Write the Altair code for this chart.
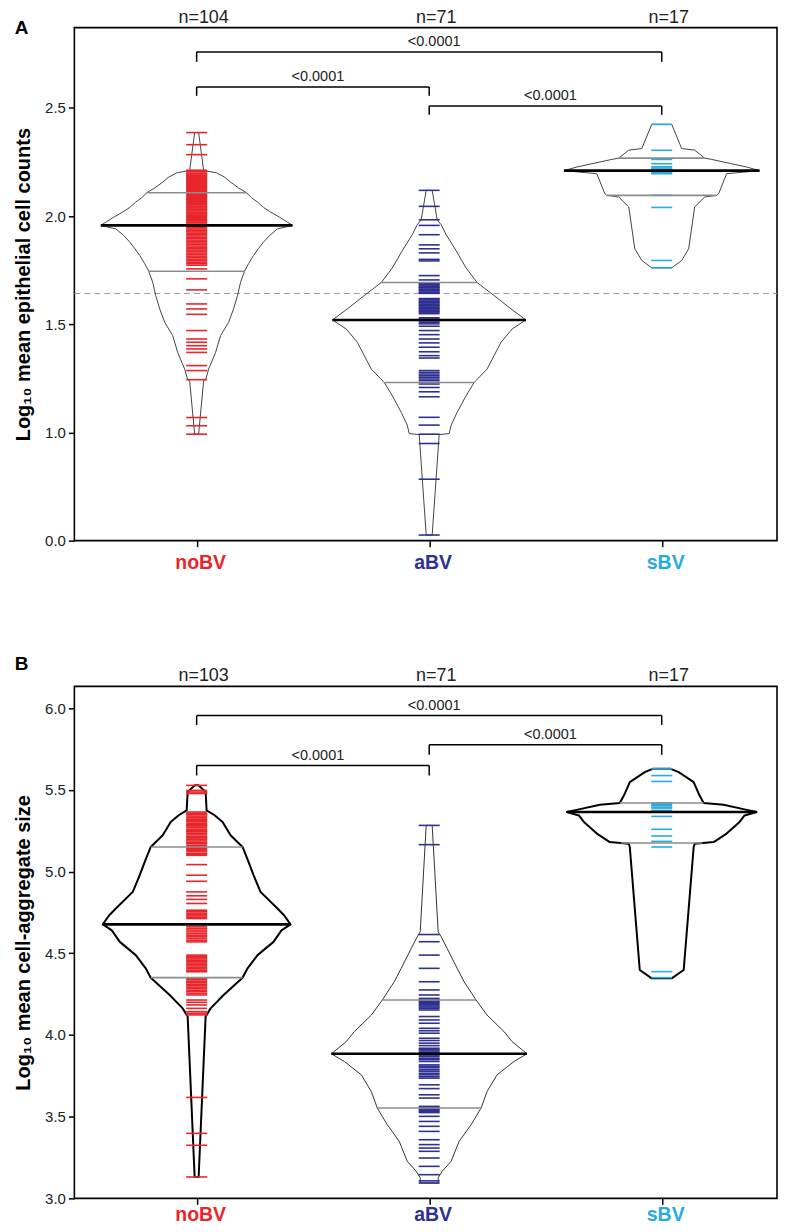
import altair as alt
import pandas as pd
import numpy as np

# ---------------- shared ----------------
groups = ["noBV", "aBV", "sBV"]
group_x = [1, 2, 3]
group_colors = ["#E8262B", "#2E3192", "#29ABE2"]
p_labels = ["<0.0001", "<0.0001", "<0.0001"]

# ---------------- panel A data ----------------
a_title = "Log\u2081\u2080 mean epithelial cell counts"
a_ticks = [0.5, 1.0, 1.5, 2.0, 2.5]
a_tick_labels = ["0.0", "1.0", "1.5", "2.0", "2.5"]
a_n = ["n=104", "n=71", "n=17"]

a_noBV = [2.386, 2.330, 2.284,
          2.212, 2.208, 2.206, 2.199, 2.196, 2.190, 2.188, 2.183, 2.177, 2.175,
          2.170, 2.164, 2.161, 2.155, 2.152, 2.147, 2.140, 2.138, 2.131, 2.129,
          2.122, 2.118, 2.113, 2.109, 2.104, 2.100, 2.094, 2.091, 2.085, 2.080,
          2.077, 2.071, 2.066, 2.062, 2.057, 2.053, 2.047, 2.043, 2.038, 2.033,
          2.029, 2.024, 2.018, 2.014, 2.009, 2.003, 1.999, 1.994, 1.989, 1.983,
          1.979, 1.973, 1.969, 1.963, 1.958,
          1.951, 1.946, 1.940, 1.933, 1.927, 1.921, 1.914, 1.908, 1.901, 1.896,
          1.889, 1.882, 1.876, 1.870, 1.862, 1.856, 1.849, 1.843, 1.836, 1.829,
          1.822, 1.815, 1.808, 1.801, 1.794, 1.787, 1.780, 1.773,
          1.756, 1.710, 1.659, 1.594, 1.571, 1.546, 1.471, 1.432, 1.417, 1.401,
          1.386, 1.370, 1.309, 1.286, 1.244, 1.069, 1.031, 0.992]
a_aBV = [2.119, 2.045, 1.983, 1.957, 1.914, 1.867, 1.849, 1.830, 1.800, 1.793,
         1.725, 1.705,
         1.688, 1.685, 1.681, 1.674, 1.671, 1.668, 1.662, 1.659, 1.655, 1.649, 1.646, 1.643,
         1.619, 1.615, 1.612, 1.605, 1.601, 1.598, 1.591, 1.587, 1.584, 1.577, 1.573,
         1.570, 1.563, 1.559, 1.556, 1.549,
         1.530, 1.524, 1.516, 1.509, 1.502,
         1.491, 1.471, 1.452, 1.432, 1.414, 1.394, 1.373, 1.355, 1.344,
         1.286, 1.278, 1.270, 1.262, 1.255, 1.247, 1.239, 1.224, 1.208, 1.188, 1.165,
         1.070, 1.034, 0.992, 0.949, 0.784, 0.526]
a_sBV = [2.424, 2.304, 2.262, 2.242, 2.228, 2.222, 2.216, 2.214, 2.211, 2.208,
         2.205, 2.200, 2.196, 2.096, 2.040, 1.795, 1.761]

a_median = [1.957, 1.520, 2.210]
a_q1 = [1.745, 1.231, 2.096]
a_q3 = [2.108, 1.693, 2.268]
a_overall = 1.642

# bean outlines: level and relative half-width (density)
a_noBV_lvl = [2.386, 2.211, 2.200, 2.180, 2.157, 2.130, 2.108, 2.085, 2.065, 2.040,
              2.019, 1.995, 1.975, 1.957, 1.941, 1.910, 1.880, 1.850, 1.818, 1.780,
              1.745, 1.694, 1.633, 1.571, 1.509, 1.448, 1.370, 1.293, 1.244, 1.239, 0.992]
a_noBV_den = [2, 7, 20, 28, 34, 42, 50, 55, 61, 67,
              74, 83, 90, 96, 81, 73, 67, 62, 57, 52,
              48, 44, 41, 37, 32, 24, 19, 12, 9, 7, 2]
a_aBV_lvl = [2.119, 1.983, 1.960, 1.914, 1.840, 1.760, 1.693, 1.633, 1.571, 1.520,
             1.478, 1.417, 1.355, 1.293, 1.231, 1.170, 1.093, 1.034, 0.995, 0.990, 0.526]
a_aBV_den = [3, 8, 12, 17, 27, 37, 48, 65, 82, 97,
             83, 72, 65, 58, 45, 37, 28, 22, 20, 10, 3]
a_sBV_lvl = [2.424, 2.312, 2.305, 2.268, 2.262, 2.242, 2.227, 2.210, 2.196, 2.103,
             2.096, 2.088, 2.042, 1.849, 1.795, 1.761]
a_sBV_den = [10, 20, 33, 43, 50, 70, 85, 98, 65, 57,
             55, 43, 33, 27, 20, 10]

# ---------------- panel B data ----------------
b_title = "Log\u2081\u2080 mean cell-aggregate size"
b_ticks = [3.0, 3.5, 4.0, 4.5, 5.0, 5.5, 6.0]
b_tick_labels = ["3.0", "3.5", "4.0", "4.5", "5.0", "5.5", "6.0"]
b_n = ["n=103", "n=71", "n=17"]

b_noBV = [5.528, 5.497, 5.487, 5.478,
          5.365, 5.357, 5.353, 5.349, 5.340, 5.331, 5.322, 5.318, 5.313, 5.305,
          5.296, 5.287, 5.283, 5.279, 5.270, 5.260, 5.251, 5.247, 5.243, 5.234,
          5.225, 5.215, 5.211, 5.206, 5.198, 5.188, 5.179, 5.175, 5.170, 5.160,
          5.151, 5.142, 5.137, 5.131, 5.121, 5.110, 5.105, 5.100,
          5.043, 4.978, 4.941, 4.876, 4.852, 4.830, 4.805,
          4.764, 4.755, 4.746, 4.738, 4.729, 4.721, 4.713,
          4.677, 4.662, 4.652, 4.642, 4.631, 4.621, 4.611, 4.601, 4.591, 4.580, 4.570,
          4.489, 4.481, 4.473, 4.465, 4.456, 4.448, 4.440, 4.431, 4.423, 4.414,
          4.405, 4.396, 4.387,
          4.347, 4.338, 4.329, 4.320, 4.311, 4.302, 4.293, 4.284, 4.274, 4.265,
          4.255, 4.245,
          4.214, 4.200, 4.184, 4.163, 4.143, 4.133, 4.123,
          3.618, 3.398, 3.325, 3.131]
b_aBV = [5.283, 5.165, 4.615, 4.571, 4.489, 4.408, 4.326, 4.276, 4.245,
         4.224, 4.215, 4.207, 4.200, 4.194, 4.186, 4.178, 4.171, 4.163, 4.153,
         4.113, 4.092, 4.072, 4.041, 4.026, 4.011, 3.980, 3.966, 3.950, 3.935,
         3.919, 3.910, 3.902, 3.893, 3.885, 3.877, 3.869, 3.858, 3.849, 3.838,
         3.817, 3.808, 3.799, 3.787, 3.778, 3.766, 3.756, 3.745, 3.736,
         3.695, 3.672, 3.634, 3.614,
         3.563, 3.556, 3.546, 3.539, 3.532, 3.525, 3.502, 3.471, 3.441, 3.410,
         3.359, 3.329, 3.308, 3.288, 3.247, 3.196, 3.145, 3.107, 3.094]
b_sBV = [5.629, 5.588, 5.552, 5.420, 5.412, 5.405, 5.395, 5.389, 5.375, 5.365,
         5.338, 5.259, 5.218, 5.185, 5.151, 4.388, 4.351]

b_median = [4.677, 3.885, 5.365]
b_q1 = [4.351, 3.553, 5.175]
b_q3 = [5.151, 4.214, 5.420]

b_noBV_lvl = [5.528, 5.487, 5.375, 5.345, 5.304, 5.223, 5.151, 5.060, 4.978, 4.876,
              4.774, 4.730, 4.677, 4.640, 4.570, 4.489, 4.408, 4.351, 4.245, 4.163,
              4.123, 4.113, 3.131]
b_noBV_den = [2, 9, 10, 18, 26, 34, 46, 52, 57, 64,
              81, 88, 94, 85, 77, 61, 51, 46, 27, 14,
              10, 9, 2]
b_aBV_lvl = [5.283, 4.632, 4.601, 4.530, 4.408, 4.326, 4.214, 4.122, 4.021, 3.960,
             3.885, 3.838, 3.756, 3.654, 3.553, 3.451, 3.349, 3.227, 3.166, 3.126, 3.094]
b_aBV_den = [3, 9, 12, 18, 28, 35, 47, 58, 75, 83,
             98, 85, 68, 58, 52, 42, 30, 22, 13, 9, 9]
b_sBV_lvl = [5.629, 5.609, 5.548, 5.477, 5.420, 5.409, 5.381, 5.365, 5.344, 5.304,
             5.233, 5.181, 5.171, 5.151, 4.398, 4.347]
b_sBV_den = [9, 17, 32, 37, 42, 62, 83, 95, 83, 78,
             65, 52, 33, 32, 22, 10]

# ---------------- layout constants ----------------
W = 704
HA = 514
HB = 513
XDOM = [0.4742, 3.4957]
PX_UNIT = W / (XDOM[1] - XDOM[0])
DEN_SCALE = 1.0 / PX_UNIT          # relative half-width -> category units
TICK_HALF = 10.5 / PX_UNIT
SANS = "Liberation Sans, Arial, Helvetica, sans-serif"


def label_expr(ticks, labels):
    expr = "''"
    for t, l in zip(reversed(ticks), reversed(labels)):
        expr = f"abs(datum.value - {t}) < 0.01 ? '{l}' : ({expr})"
    return expr


def make_panel(letter, letter_dy, title, ticks, tick_labels, ydom, height, nlab,
               values, profiles, med, q1, q3, brackets, outline_w, outline_c,
               cat_dy, overall=None):
    X = alt.X("x:Q", scale=alt.Scale(domain=XDOM, nice=False, zero=False),
              axis=alt.Axis(values=[1, 2, 3], labels=False, tickSize=6, title=None,
                            grid=False, domain=False))
    Y = alt.Y("y:Q", scale=alt.Scale(domain=ydom, nice=False, zero=False),
              axis=alt.Axis(values=ticks, labelExpr=label_expr(ticks, tick_labels),
                            title=title, tickSize=6, labelPadding=3, titlePadding=11,
                            grid=False, domain=False))
    layers = []

    if overall is not None:
        df = pd.DataFrame({"x": [XDOM[0]], "x2": [XDOM[1]], "y": [overall]})
        layers.append(alt.Chart(df).mark_rule(color="#9a9a9a", strokeWidth=1,
                                              strokeDash=[6, 4]).encode(x=X, x2="x2", y=Y))

    # bean outlines
    for gi, (lvl, den) in enumerate(profiles):
        lvl = np.array(lvl)
        den = np.array(den)
        order = np.argsort(lvl)
        df = pd.DataFrame({
            "y": lvl[order],
            "x": group_x[gi] - den[order] * DEN_SCALE,
            "x2": group_x[gi] + den[order] * DEN_SCALE,
        })
        layers.append(alt.Chart(df).mark_area(
            orient="horizontal", fillOpacity=0, stroke=outline_c[gi],
            strokeWidth=outline_w[gi], strokeJoin="round", interpolate="linear"
        ).encode(x=X, x2="x2", y=Y))

    # individual observations
    rows = []
    for gi, vals in enumerate(values):
        for v in vals:
            rows.append({"g": groups[gi], "y": v,
                         "x": group_x[gi] - TICK_HALF, "x2": group_x[gi] + TICK_HALF})
    pts = pd.DataFrame(rows)
    layers.append(alt.Chart(pts).mark_rule(strokeWidth=1.6).encode(
        x=X, x2="x2", y=Y,
        color=alt.Color("g:N", scale=alt.Scale(domain=groups, range=group_colors),
                        legend=None)))

    # quartile and median lines spanning the bean width
    qrows, mrows = [], []
    for gi, (lvl, den) in enumerate(profiles):
        lvl = np.array(lvl)
        den = np.array(den)
        order = np.argsort(lvl)
        for q in (q1[gi], q3[gi]):
            w = float(np.interp(q, lvl[order], den[order])) * DEN_SCALE
            qrows.append({"y": q, "x": group_x[gi] - w, "x2": group_x[gi] + w})
        w = float(np.interp(med[gi], lvl[order], den[order])) * DEN_SCALE
        mrows.append({"y": med[gi], "x": group_x[gi] - w, "x2": group_x[gi] + w})
    layers.append(alt.Chart(pd.DataFrame(qrows)).mark_rule(
        color="#8c8c8c", strokeWidth=1.6).encode(x=X, x2="x2", y=Y))
    layers.append(alt.Chart(pd.DataFrame(mrows)).mark_rule(
        color="black", strokeWidth=2.6).encode(x=X, x2="x2", y=Y))

    # significance brackets
    brows, trows = [], []
    for (g1, g2, top, leg), lab in zip(brackets, p_labels):
        brows.append({"x": g1, "x2": g2, "y": top, "y2": top})
        brows.append({"x": g1, "x2": g1, "y": top, "y2": leg})
        brows.append({"x": g2, "x2": g2, "y": top, "y2": leg})
        trows.append({"x": (g1 + g2) / 2, "y": top, "t": lab})
    layers.append(alt.Chart(pd.DataFrame(brows)).mark_rule(
        color="black", strokeWidth=1.5).encode(x=X, x2="x2", y=Y, y2="y2"))
    layers.append(alt.Chart(pd.DataFrame(trows)).mark_text(
        font=SANS, fontSize=14.5, color="#222", baseline="middle", dy=-9.5, dx=5
    ).encode(x=X, y=Y, text="t:N"))

    # n labels above the frame
    ndf = pd.DataFrame({"x": group_x, "t": nlab})
    layers.append(alt.Chart(ndf).mark_text(
        font=SANS, fontSize=18, color="#222", baseline="middle", dx=7
    ).encode(x=X, y=alt.value(-10), text="t:N"))

    # category labels below the frame
    cdf = pd.DataFrame({"x": group_x, "g": groups})
    layers.append(alt.Chart(cdf).mark_text(
        font=SANS, fontSize=19.5, fontWeight="bold", baseline="middle", dx=4
    ).encode(x=X, y=alt.value(height + cat_dy), text="g:N",
             color=alt.Color("g:N", scale=alt.Scale(domain=groups, range=group_colors),
                             legend=None)))

    # panel letter
    ldf = pd.DataFrame({"t": [letter]})
    layers.append(alt.Chart(ldf).mark_text(
        font=SANS, fontSize=19, fontWeight="bold", color="black", baseline="middle",
        align="center"
    ).encode(x=alt.value(-53), y=alt.value(letter_dy), text="t:N"))

    return alt.layer(*layers).properties(width=W, height=height)


panel_a = make_panel(
    "A", 0, a_title, a_ticks, a_tick_labels, [0.5, 2.871], HA, a_n,
    [a_noBV, a_aBV, a_sBV],
    [(a_noBV_lvl, a_noBV_den), (a_aBV_lvl, a_aBV_den), (a_sBV_lvl, a_sBV_den)],
    a_median, a_q1, a_q3,
    [(1, 3, 2.759, 2.713), (1, 2, 2.597, 2.556), (2, 3, 2.509, 2.468)],
    [1.0, 1.0, 1.0], ["#444", "#444", "#444"], 22, overall=a_overall)

panel_b = make_panel(
    "B", -22, b_title, b_ticks, b_tick_labels, [3.0, 6.134], HB, b_n,
    [b_noBV, b_aBV, b_sBV],
    [(b_noBV_lvl, b_noBV_den), (b_aBV_lvl, b_aBV_den), (b_sBV_lvl, b_sBV_den)],
    b_median, b_q1, b_q3,
    [(1, 3, 5.955, 5.898), (1, 2, 5.650, 5.589), (2, 3, 5.776, 5.715)],
    [2.0, 1.0, 2.0], ["black", "#333", "black"], 17)

chart = alt.vconcat(panel_a, panel_b, spacing=81).properties(
    padding={"left": 4.5, "top": -1.5, "right": 0, "bottom": -0.75}
).configure_view(
    stroke="black", strokeWidth=1.6
).configure_axis(
    labelFont=SANS, labelFontSize=15, labelColor="#222",
    tickColor="black", tickWidth=1.5,
    titleFont=SANS, titleFontSize=20, titleFontWeight="bold", titleColor="black"
).configure_concat(spacing=81)

chart.save("out.html", embed_options={"renderer": "svg", "actions": False})
